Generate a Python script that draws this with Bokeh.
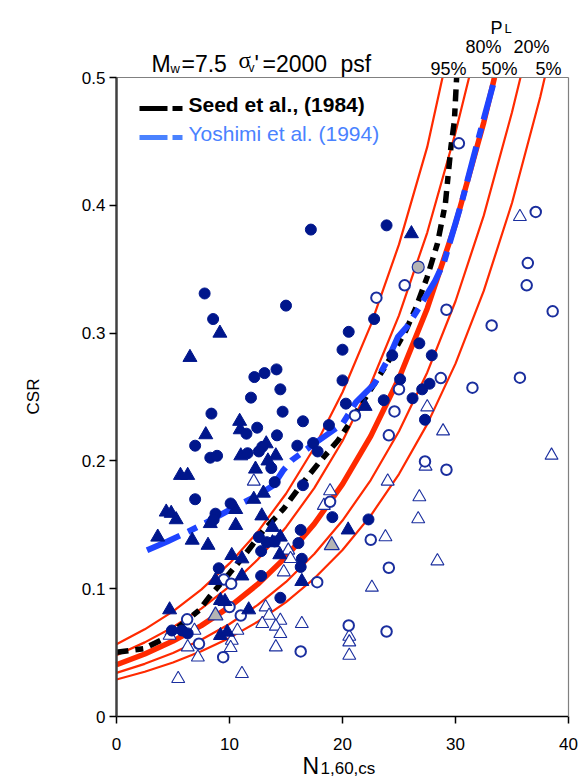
import math
from bokeh.plotting import figure
from bokeh.models import Label, FixedTicker, CustomJSTickFormatter, Range1d, LinearAxis
from bokeh.embed import file_html
from bokeh.resources import INLINE

# ---------------- data ----------------
x_ticks = [0, 10, 20, 30, 40]
y_ticks = [0, 0.1, 0.2, 0.3, 0.4, 0.5]

# probability-of-liquefaction contours (N1,60,cs , CSR); each ends where it meets the top of the box
pl95_n = [0, 2.5, 5, 7.5, 10, 12.5, 15, 17.5, 20, 22.5, 25, 27.5, 28.85]
pl95_csr = [0.0565, 0.0682, 0.0823, 0.0993, 0.1198, 0.1445, 0.1743, 0.2103, 0.2537, 0.3062, 0.3694, 0.4457, 0.500]
pl80_n = [0, 2.5, 5, 7.5, 10, 12.5, 15, 17.5, 20, 22.5, 25, 27.5, 30, 31.2]
pl80_csr = [0.0480, 0.0580, 0.0699, 0.0844, 0.1018, 0.1228, 0.1481, 0.1787, 0.2156, 0.2602, 0.3139, 0.3787, 0.4569, 0.500]
pl50_n = [0, 2.5, 5, 7.5, 10, 12.5, 15, 17.5, 20, 22.5, 25, 27.5, 30, 32.5, 33.45]
pl50_csr = [0.0405, 0.0489, 0.0590, 0.0711, 0.0858, 0.1035, 0.1249, 0.1507, 0.1818, 0.2194, 0.2647, 0.3193, 0.3853, 0.4648, 0.500]
pl20_n = [0, 2.5, 5, 7.5, 10, 12.5, 15, 17.5, 20, 22.5, 25, 27.5, 30, 32.5, 35, 35.75]
pl20_csr = [0.0341, 0.0412, 0.0497, 0.0600, 0.0724, 0.0873, 0.1053, 0.1271, 0.1533, 0.1850, 0.2232, 0.2692, 0.3249, 0.3919, 0.4728, 0.500]
pl5_n = [0, 2.5, 5, 7.5, 10, 12.5, 15, 17.5, 20, 22.5, 25, 27.5, 30, 32.5, 35, 37.5, 37.9]
pl5_csr = [0.0290, 0.0350, 0.0422, 0.0510, 0.0615, 0.0742, 0.0895, 0.1080, 0.1303, 0.1572, 0.1897, 0.2288, 0.2761, 0.3330, 0.4018, 0.4848, 0.500]

# Seed et al. (1984)
seed_n = [0, 2.4, 3.9, 4.8, 7.3, 8.2, 10.0, 11.4, 13.0, 14.8, 16.4, 18.05, 19.6, 20.4, 21.7, 22.8, 24.2, 25.6, 26.5, 27.5, 28.4, 29.1, 29.6, 29.9, 30.1]
seed_csr = [0.0503, 0.053, 0.0595, 0.065, 0.083, 0.0934, 0.112, 0.127, 0.1456, 0.1626, 0.182, 0.200, 0.216, 0.2265, 0.245, 0.260, 0.280, 0.302, 0.320, 0.344, 0.370, 0.401, 0.446, 0.466, 0.500]

# Yoshimi et al. (1994)
yosh_n = [2.7, 4.5, 6.2, 8.0, 10.7, 12.5, 13.9, 14.75, 15.5, 17.5, 20.0, 21.2, 22.8, 24.0, 24.9, 25.7, 26.5, 28.2, 29.0, 30.6, 31.9, 33.5]
yosh_csr = [0.130, 0.137, 0.144, 0.152, 0.165, 0.173, 0.181, 0.1926, 0.2004, 0.2135, 0.229, 0.246, 0.260, 0.279, 0.297, 0.305, 0.316, 0.341, 0.356, 0.404, 0.448, 0.500]

# liquefied - filled circles
liq_circ_n = [17.2, 7.8, 8.55, 15.0, 20.55, 20.0, 12.2, 13.1, 14.16, 20.0, 11.9, 14.5, 20.3, 14.7, 8.4,
              16.5, 18.8, 12.45, 11.5, 14.2, 6.96, 16.0, 17.4, 17.8, 12.9, 8.3, 8.9, 11.6, 12.6, 13.7,
              14.0, 16.5, 6.96, 10.1, 8.76, 8.6, 19.1, 16.3, 12.6, 16.1, 13.3, 14.0, 12.8, 16.4, 16.3,
              9.05, 12.8, 14.5, 4.9, 5.8, 6.3, 23.9, 22.8, 26.8, 24.4, 27.9, 25.1, 27.05, 27.7, 26.2,
              23.65, 27.3, 22.3]
liq_circ_csr = [0.381, 0.331, 0.311, 0.3215, 0.301, 0.287, 0.2656, 0.2687, 0.2716, 0.263, 0.2495, 0.256, 0.2448, 0.2385, 0.237,
                0.231, 0.228, 0.226, 0.2213, 0.220, 0.2119, 0.2119, 0.214, 0.2074, 0.211, 0.2025, 0.204, 0.206, 0.2074, 0.1944,
                0.1834, 0.181, 0.170, 0.1667, 0.1587, 0.154, 0.156, 0.146, 0.1404, 0.1357, 0.1364, 0.137, 0.1294, 0.1234, 0.117,
                0.116, 0.110, 0.0929, 0.0673, 0.0673, 0.065, 0.3843, 0.311, 0.292, 0.2826, 0.2826, 0.2638, 0.256, 0.2604, 0.249,
                0.2475, 0.2322, 0.1542]

# liquefied - filled triangles
liq_tri_n = [9.15, 6.5, 10.9, 7.9, 10.95, 13.25, 11.0, 14.1, 13.4, 5.66, 6.3, 12.3, 13.0, 12.15, 10.55,
             4.4, 4.84, 5.28, 8.3, 12.86, 10.55, 20.5, 13.8, 3.65, 6.7, 8.1, 13.8, 14.5, 10.2, 11.1,
             14.45, 11.1, 8.76, 16.4, 9.2, 9.6, 4.7, 11.7, 9.2, 9.8, 26.1, 22.0]
liq_tri_csr = [0.300, 0.281, 0.231, 0.2205, 0.2244, 0.2134, 0.204, 0.204, 0.200, 0.1887, 0.1887, 0.1936, 0.1748, 0.170, 0.162,
               0.160, 0.159, 0.154, 0.151, 0.157, 0.1495, 0.146, 0.148, 0.1404, 0.138, 0.134, 0.136, 0.1404, 0.126, 0.1234,
               0.1266, 0.110, 0.1065, 0.1057, 0.0908, 0.090, 0.0835, 0.0835, 0.0634, 0.066, 0.3778, 0.2427]

# marginal - grey markers
grey_tri_n = [19.05, 8.76]
grey_tri_csr = [0.134, 0.079]
grey_circ_n = [26.7]
grey_circ_csr = [0.3517]

# non-liquefied - open circles
nonliq_circ_n = [9.5, 10.15, 17.76, 10.0, 11.0, 16.3, 6.25, 9.44, 7.3, 18.9, 30.3, 37.1, 25.5, 23.0, 36.4, 36.3,
                 38.6, 29.2, 33.2, 25.0, 28.7, 31.5, 35.7, 21.1, 24.6, 24.1, 27.3, 29.2, 22.5, 24.1, 20.55, 23.9]
nonliq_circ_csr = [0.1072, 0.1039, 0.1051, 0.0856, 0.079, 0.0509, 0.076, 0.0464, 0.0569, 0.168, 0.4485, 0.3948, 0.3374, 0.3277, 0.3548, 0.3374,
                   0.317, 0.3183, 0.306, 0.256, 0.2648, 0.2573, 0.2651, 0.2356, 0.2387, 0.220, 0.1996, 0.1931, 0.1383, 0.1164, 0.0712, 0.0665]

# non-liquefied - open triangles
nonliq_tri_n = [12.15, 18.9, 18.35, 15.2, 15.4, 14.8, 13.2, 13.5, 12.9, 14.5, 14.1, 14.5, 16.4, 14.1, 10.2, 10.1,
                10.7, 11.1, 4.7, 6.9, 6.3, 7.2, 5.46, 35.7, 27.5, 28.9, 38.5, 27.35, 24.0, 26.8, 26.7, 23.8,
                28.4, 22.6, 20.6, 20.6, 20.6]
nonliq_tri_csr = [0.184, 0.1764, 0.165, 0.130, 0.1234, 0.113, 0.0856, 0.079, 0.0726, 0.0751, 0.0705, 0.0647, 0.0726, 0.0543, 0.0595, 0.0538,
                  0.0673, 0.0334, 0.0634, 0.0673, 0.0543, 0.0464, 0.0295, 0.391, 0.2421, 0.2233, 0.2043, 0.1957, 0.184, 0.1717, 0.1545, 0.1404,
                  0.1216, 0.101, 0.0626, 0.0582, 0.0477]

pl_labels = ["95%", "80%", "50%", "20%", "5%"]

# ---------------- styling ----------------
RED = "#ff2a00"
NAVY = "#00168c"
NAVY_OPEN = "#1a2e9e"
BLUE_LINE = "#1f44ff"
BLUE_TXT = "#4a82ff"
FONT = "Liberation Sans"

W, H = 584, 778
L, R, T, B = 116, 568, 77, 716          # pixel box of the data area
XMAX, YMAX = 40.0, 0.5
kx = (R - L) / XMAX
ky = (B - T) / YMAX
x0, x1 = -L / kx, XMAX + (W - R) / kx
y0, y1 = -(H - B) / ky, YMAX + T / ky


def sx(px):
    return (px - L) / kx


def sy(py):
    return (B - py) / ky


p = figure(width=W, height=H, x_range=Range1d(x0, x1), y_range=Range1d(y0, y1),
           output_backend="svg", toolbar_location=None, x_axis_location=None, y_axis_location=None)
p.min_border = 0
p.background_fill_color = "white"
p.border_fill_color = "white"
p.outline_line_color = None
p.grid.visible = False


def style_axis(ax, size):
    ax.minor_tick_line_color = None
    ax.major_tick_in = 0
    ax.major_tick_out = 7
    ax.major_label_text_font = FONT
    ax.major_label_text_color = "black"
    ax.major_label_text_font_size = size
    ax.major_tick_line_color = "black"
    ax.major_tick_line_width = 1.5


xax = LinearAxis(fixed_location=0, bounds=(0, XMAX), ticker=FixedTicker(ticks=x_ticks))
style_axis(xax, "17px")
xax.major_label_standoff = 14
xax.axis_line_color = "black"
xax.axis_line_width = 1.5
p.add_layout(xax, "below")

yax = LinearAxis(fixed_location=0, bounds=(0, YMAX), ticker=FixedTicker(ticks=y_ticks),
                 formatter=CustomJSTickFormatter(code="return tick === 0 ? '0' : tick.toFixed(1);"))
style_axis(yax, "17px")
yax.major_label_standoff = 4
yax.axis_line_color = "#404040"
yax.axis_line_width = 2.5
p.add_layout(yax, "left")

# thin grey frame on top and right
for loc, place, bnds in [(YMAX, "above", (0, XMAX)), (XMAX, "right", (0, YMAX))]:
    fr = LinearAxis(fixed_location=loc, bounds=bnds, ticker=FixedTicker(ticks=[]))
    fr.axis_line_color = "#808080"
    fr.axis_line_width = 1.2
    fr.major_tick_line_color = None
    fr.minor_tick_line_color = None
    fr.major_label_text_font_size = "0px"
    p.add_layout(fr, place)

# contours
for xs, ys, w in [(pl95_n, pl95_csr, 2.2), (pl80_n, pl80_csr, 2.2), (pl20_n, pl20_csr, 2.2),
                  (pl5_n, pl5_csr, 2.2), (pl50_n, pl50_csr, 5.5)]:
    p.line(xs, ys, line_color=RED, line_width=w)

p.line(seed_n, seed_csr, line_color="black", line_width=5.5, line_dash="12 7 8 7")
p.line(yosh_n, yosh_csr, line_color=BLUE_LINE, line_width=6, line_dash="36 9 10 9")

# data points
p.scatter(nonliq_tri_n, nonliq_tri_csr, marker="triangle", size=13, fill_color="white",
          line_color=NAVY_OPEN, line_width=1.1)
p.scatter(nonliq_circ_n, nonliq_circ_csr, marker="circle", size=10.5, fill_color="white",
          line_color=NAVY_OPEN, line_width=2)
p.scatter(liq_tri_n, liq_tri_csr, marker="triangle", size=14, fill_color=NAVY, line_color=NAVY)
p.scatter(liq_circ_n, liq_circ_csr, marker="circle", size=11, fill_color=NAVY, line_color=NAVY)
p.scatter(grey_tri_n, grey_tri_csr, marker="triangle", size=15, fill_color="#b4b4b4",
          line_color=NAVY_OPEN, line_width=1.2)
p.scatter(grey_circ_n, grey_circ_csr, marker="circle", size=12, fill_color="#b4b4b4",
          line_color=NAVY_OPEN, line_width=1.2)

# legend (hand-drawn like the reference)
p.line([sx(139), sx(167)], [sy(108), sy(108)], line_color="black", line_width=5)
p.line([sx(172), sx(182)], [sy(108), sy(108)], line_color="black", line_width=5)
p.line([sx(139), sx(167)], [sy(137), sy(137)], line_color=BLUE_TXT, line_width=5)
p.line([sx(172), sx(182)], [sy(137), sy(137)], line_color=BLUE_TXT, line_width=5)


def lab(px, py, text, size, color="black", font=FONT, style="normal", align="left", angle=0.0,
        baseline="alphabetic"):
    p.add_layout(Label(x=sx(px), y=sy(py), text=text, text_font=font, text_font_size=f"{size}px",
                       text_color=color, text_font_style=style, text_align=align,
                       text_baseline=baseline, angle=angle))


lab(188, 104, "Seed et al., (1984)", 21, style="bold")
lab(188, 133, "Yoshimi et al. (1994)", 21, color=BLUE_TXT)

# title pieces
lab(151, 63, "M", 23)
lab(170, 68, "w", 13)
lab(181, 63, "=7.5", 23)
lab(238, 60, "σ", 23, font="Liberation Serif")
lab(248, 67, "v", 12)
lab(254, 63, "'", 23)
lab(262, 63, "=2000", 23)
lab(340, 63, "psf", 23)

# probability labels
lab(490, 27, "P", 18)
lab(504, 28, "L", 13)
lab(465, 46, pl_labels[1], 18)
lab(513, 46, pl_labels[3], 18)
lab(430, 68, pl_labels[0], 18)
lab(481, 68, pl_labels[2], 18)
lab(535, 68, pl_labels[4], 18)

# axis titles
lab(33, 396, "CSR", 17, align="center", angle=math.pi / 2, baseline="middle")
lab(302, 765, "N", 23)
lab(320, 768, "1,60,cs", 17)

open("out.html", "w").write(file_html(p, INLINE))
